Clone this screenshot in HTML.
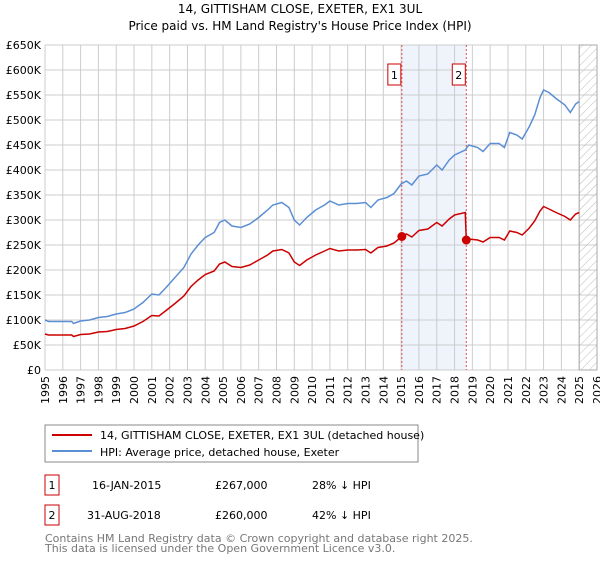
<!DOCTYPE html>
<html><head><meta charset="utf-8"><style>
body{margin:0;background:#fff;font-family:"DejaVu Sans","Liberation Sans",sans-serif;}
svg text{font-family:"DejaVu Sans","Liberation Sans",sans-serif;}
</style></head><body>
<svg id="c" width="600" height="560" xmlns="http://www.w3.org/2000/svg">
<defs><pattern id="hatch" width="6" height="6" patternUnits="userSpaceOnUse" patternTransform="rotate(45)"><line x1="0" y1="0" x2="0" y2="6" stroke="#bbb" stroke-width="1"/></pattern></defs>
<text x="300" y="13" font-size="12" text-anchor="middle">14, GITTISHAM CLOSE, EXETER, EX1 3UL</text>
<text x="300" y="30" font-size="12" text-anchor="middle">Price paid vs. HM Land Registry's House Price Index (HPI)</text>
<g id="grid"></g><g id="marks"></g>
<rect x="45" y="425" width="373" height="37" fill="#fff" stroke="#888"/>
<line x1="52" y1="435" x2="92" y2="435" stroke="#cc0000" stroke-width="2"/>
<text x="100" y="439" font-size="11">14, GITTISHAM CLOSE, EXETER, EX1 3UL (detached house)</text>
<line x1="52" y1="451" x2="92" y2="451" stroke="#5b8fd4" stroke-width="2"/>
<text x="100" y="456" font-size="11">HPI: Average price, detached house, Exeter</text>
<g font-size="11">
<rect x="45" y="475" width="14" height="20" fill="#fff" stroke="#cc0000"/>
<text x="52" y="489" text-anchor="middle">1</text>
<text x="92" y="489">16-JAN-2015</text><text x="215" y="489">£267,000</text><text x="312" y="489">28% ↓ HPI</text>
<rect x="45" y="505" width="14" height="20" fill="#fff" stroke="#cc0000"/>
<text x="52" y="519" text-anchor="middle">2</text>
<text x="87" y="519">31-AUG-2018</text><text x="215" y="519">£260,000</text><text x="312" y="519">42% ↓ HPI</text>
</g>
<text x="45" y="542" font-size="11" fill="#777">Contains HM Land Registry data © Crown copyright and database right 2025.</text>
<text x="45" y="552" font-size="11" fill="#777">This data is licensed under the Open Government Licence v3.0.</text>
</svg>
<script>
const yTicks=[0,50,100,150,200,250,300,350,400,450,500,550,600,650];
const xYears=[1995,1996,1997,1998,1999,2000,2001,2002,2003,2004,2005,2006,2007,2008,2009,2010,2011,2012,2013,2014,2015,2016,2017,2018,2019,2020,2021,2022,2023,2024,2025,2026];
const hpiYears=[1995,1995.2,1996.5,1996.6,1997,1997.5,1998,1998.5,1999,1999.5,2000,2000.5,2001,2001.4,2001.8,2002.3,2002.8,2003.2,2003.6,2004,2004.5,2004.8,2005.1,2005.5,2006,2006.5,2007,2007.5,2007.8,2008.3,2008.7,2009,2009.3,2009.7,2010.2,2010.7,2011,2011.5,2012,2012.5,2013,2013.3,2013.7,2014.2,2014.6,2015,2015.3,2015.6,2016,2016.5,2017,2017.3,2017.7,2018,2018.6,2018.8,2019.3,2019.6,2020,2020.5,2020.8,2021.1,2021.5,2021.8,2022.2,2022.5,2022.8,2023,2023.3,2023.7,2024.2,2024.5,2024.8,2025];
const hpiValues=[100,97,97,93,98,100,105,107,112,115,122,135,152,150,165,185,205,232,250,265,275,295,300,288,285,292,305,320,330,335,325,300,290,305,320,330,338,330,333,333,335,325,340,345,353,372,378,370,388,392,410,400,420,430,440,450,445,437,453,453,445,475,470,462,487,510,545,560,555,543,530,515,532,537];
const priceYears=[1995,1995.2,1996.5,1996.6,1997,1997.5,1998,1998.5,1999,1999.5,2000,2000.5,2001,2001.4,2001.8,2002.3,2002.8,2003.2,2003.6,2004,2004.5,2004.8,2005.1,2005.5,2006,2006.5,2007,2007.5,2007.8,2008.3,2008.7,2009,2009.3,2009.7,2010.2,2010.7,2011,2011.5,2012,2012.5,2013,2013.3,2013.7,2014.2,2014.6,2015.04,2015.3,2015.6,2016,2016.5,2017,2017.3,2017.7,2018,2018.6,2018.66,2018.8,2019.3,2019.6,2020,2020.5,2020.8,2021.1,2021.5,2021.8,2022.2,2022.5,2022.8,2023,2023.3,2023.7,2024.2,2024.5,2024.8,2025];
const priceValues=[72,70,70,67,71,72,76,77,81,83,88,97,109,108,119,133,148,167,180,191,198,212,216,207,205,210,220,230,238,241,234,216,209,220,230,238,243,238,240,240,241,234,245,248,254,267,272,266,279,282,295,288,302,310,315,260,262,260,256,265,265,260,278,275,270,284,298,318,327,322,315,307,300,312,315];
const saleYears=[2015.04,2018.66];
const saleValues=[267,260];
const saleLabels=["1","2"];
const NS="http://www.w3.org/2000/svg";
const X0=45,X1=597,Y0=370,Y1=45;
const xs=y=>X0+(y-1995)/31*(X1-X0);
const ys=v=>Y0-v/650*(Y0-Y1);
const grid=document.getElementById('grid'),marks=document.getElementById('marks');
function mk(p,tag,a){const e=document.createElementNS(NS,tag);for(const k in a)e.setAttribute(k,a[k]);p.appendChild(e);return e;}
// shaded band
let band=mk(grid,'rect',{x:xs(saleYears[0]),y:Y1,width:xs(saleYears[1])-xs(saleYears[0]),height:Y0-Y1,fill:'#eef3fc'});


yTicks.forEach(v=>{
 let l=mk(grid,'line',{x1:X0,x2:X1,y1:ys(v),y2:ys(v),stroke:'#ccc'});
 
 
 let t=mk(grid,'text',{x:X0-4,y:ys(v)+4,'font-size':11,'text-anchor':'end'});
 t.textContent=v===0?'£0':'£'+v+'K';
 
 
});
xYears.forEach(yr=>{
 let l=mk(grid,'line',{x1:xs(yr),x2:xs(yr),y1:Y1,y2:Y0,stroke:'#ccc'});
 
 
 let t=mk(grid,'text',{x:0,y:0,'font-size':11,'text-anchor':'end',transform:`translate(${xs(yr)+4},${Y0+6}) rotate(-90)`});
 t.textContent=yr;
 
 
});
let h=mk(grid,'rect',{x:xs(2025),y:Y1,width:X1-xs(2025),height:Y0-Y1,fill:'url(#hatch)',stroke:'#aaa'});


saleYears.forEach((yr,i)=>{
 let l=mk(marks,'line',{x1:xs(yr),x2:xs(yr),y1:Y1,y2:Y0,stroke:'#e05050','stroke-dasharray':'2,2'});
 
 
});
let hp=mk(marks,'polyline',{points:hpiYears.map((y,i)=>xs(y)+','+ys(hpiValues[i])).join(' '),fill:'none',stroke:'#5b8fd4','stroke-width':1.5});


let pp=mk(marks,'polyline',{points:priceYears.map((y,i)=>xs(y)+','+ys(priceValues[i])).join(' '),fill:'none',stroke:'#cc0000','stroke-width':1.5});


saleYears.forEach((yr,i)=>{
 let c=mk(marks,'circle',{cx:xs(yr),cy:ys(saleValues[i]),r:4.5,fill:'#cc0000'});
 
 
 let b=mk(marks,'rect',{x:xs(yr)-14,y:64,width:13,height:21,fill:'#fff',stroke:'#cc0000'});
 
 
 let t=mk(marks,'text',{x:xs(yr)-7.5,y:79,'font-size':11,'text-anchor':'middle'});
 t.textContent=saleLabels[i];
 
 
});
</script>
</body></html>
